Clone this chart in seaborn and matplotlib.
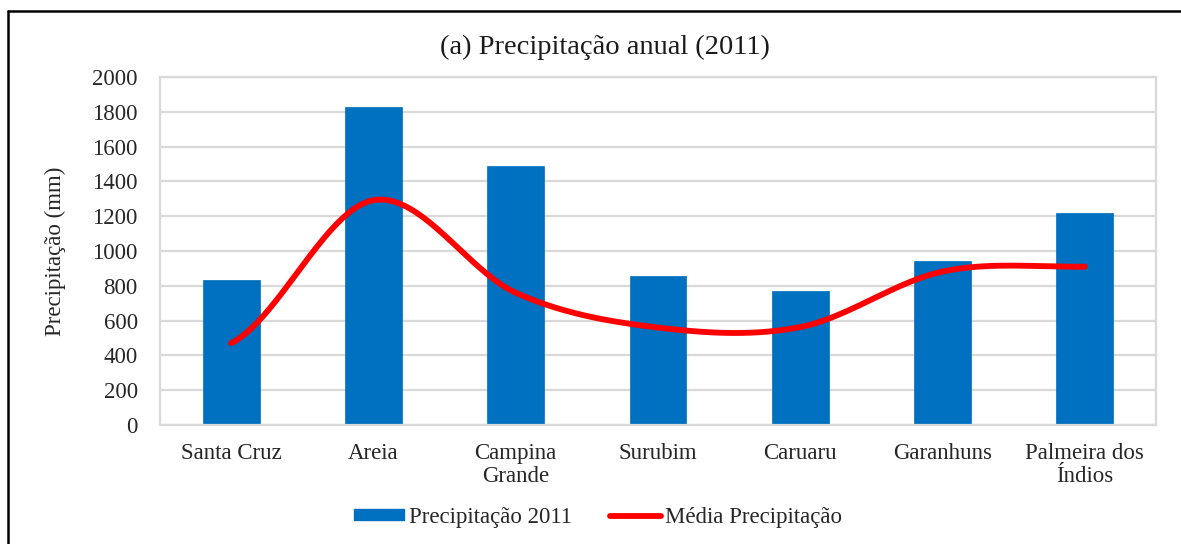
import numpy as np
import pandas as pd
import matplotlib
matplotlib.use("Agg")
import matplotlib.pyplot as plt
from matplotlib.lines import Line2D
from matplotlib.patches import Patch
import seaborn as sns

# Annual rainfall per station (2011) and the long-term mean
stations = ["Santa Cruz", "Areia", "Campina\nGrande", "Surubim",
            "Caruaru", "Garanhuns", "Palmeira dos\nÍndios"]
precip_2011 = [835, 1828, 1490, 855, 772, 945, 1220]
mean_precip = [470, 1292, 760, 560, 563, 882, 910]
y_ticks = [0, 200, 400, 600, 800, 1000, 1200, 1400, 1600, 1800, 2000]

BAR_COLOR = "#0070C0"
LINE_COLOR = "#FF0000"
GRID_COLOR = "#D9D9D9"
TEXT_COLOR = "#262626"

sns.set_theme(style="white")
plt.rcParams["font.family"] = ["Liberation Serif", "DejaVu Serif"]


def catmull_rom(values, steps=60):
    """Smooth curve through the points (same look as spreadsheet 'smoothed line')."""
    p = np.asarray(values, dtype=float)
    p_ext = np.concatenate([[p[0]], p, [p[-1]]])
    xs, ys = [], []
    for i in range(len(p) - 1):
        p0, p1, p2, p3 = p_ext[i], p_ext[i + 1], p_ext[i + 2], p_ext[i + 3]
        m1 = (p2 - p0) / 2.0
        m2 = (p3 - p1) / 2.0
        t = np.linspace(0, 1, steps, endpoint=(i == len(p) - 2))
        h00 = 2 * t**3 - 3 * t**2 + 1
        h10 = t**3 - 2 * t**2 + t
        h01 = -2 * t**3 + 3 * t**2
        h11 = t**3 - t**2
        xs.append(i + t)
        ys.append(h00 * p1 + h10 * m1 + h01 * p2 + h11 * m2)
    return np.concatenate(xs), np.concatenate(ys)


bars = pd.DataFrame({"station": stations, "precip": precip_2011})
cx, cy = catmull_rom(mean_precip)
curve = pd.DataFrame({"x": cx, "y": cy})

fig = plt.figure(figsize=(11.81, 5.44), dpi=100)
ax = fig.add_axes([160 / 1181, 1 - 425 / 544, (1156 - 160) / 1181, (425 - 77) / 544])

sns.barplot(data=bars, x="station", y="precip", color=BAR_COLOR, width=0.4,
            saturation=1, edgecolor=BAR_COLOR, linewidth=0.5, ax=ax, zorder=2)
sns.lineplot(data=curve, x="x", y="y", color=LINE_COLOR, linewidth=4.2,
             estimator=None, sort=False, ax=ax, zorder=3,
             solid_capstyle="round")

ax.set_xlim(-0.5, len(stations) - 0.5)
ax.set_ylim(0, 2000)
ax.set_yticks(y_ticks)
ax.set_yticklabels([str(v) for v in y_ticks])
ax.set_xlabel("")
ax.set_ylabel("Precipitação (mm)", fontsize=16.5, color=TEXT_COLOR, labelpad=19)
ax.yaxis.grid(True, color=GRID_COLOR, linewidth=1.6, zorder=0)
ax.set_axisbelow(True)
for side in ["left", "right", "top", "bottom"]:
    ax.spines[side].set_visible(True)
    ax.spines[side].set_color(GRID_COLOR)
    ax.spines[side].set_linewidth(1.6)
ax.tick_params(axis="both", length=0, labelsize=16.5, colors=TEXT_COLOR)
ax.tick_params(axis="x", pad=13)
ax.tick_params(axis="y", pad=16)
for lbl in ax.get_xticklabels():
    lbl.set_linespacing(1.15)

fig.text(605 / 1181, 1 - 47 / 544, "(a) Precipitação anual (2011)",
         ha="center", va="center", fontsize=20.5, color="#1a1a1a")

handles = [Patch(facecolor=BAR_COLOR, edgecolor=BAR_COLOR),
           Line2D([0], [0], color=LINE_COLOR, linewidth=4.2, solid_capstyle="round")]
fig.legend(handles, ["Precipitação 2011", "Média Precipitação"],
           loc="center", bbox_to_anchor=(598 / 1181, 1 - 517 / 544),
           ncol=2, frameon=False, fontsize=16.5, handlelength=2.2,
           handleheight=0.4, handletextpad=0.2, columnspacing=1.7,
           labelcolor=TEXT_COLOR)

# Outer frame (top and left edges)
fig.add_artist(Line2D([8 / 1181, 1.0], [1 - 11 / 544, 1 - 11 / 544],
                      color="black", linewidth=1.8, transform=fig.transFigure))
fig.add_artist(Line2D([8 / 1181, 8 / 1181], [0.0, 1 - 11 / 544],
                      color="black", linewidth=1.8, transform=fig.transFigure))

fig.savefig("out.png", dpi=100, facecolor="white")
